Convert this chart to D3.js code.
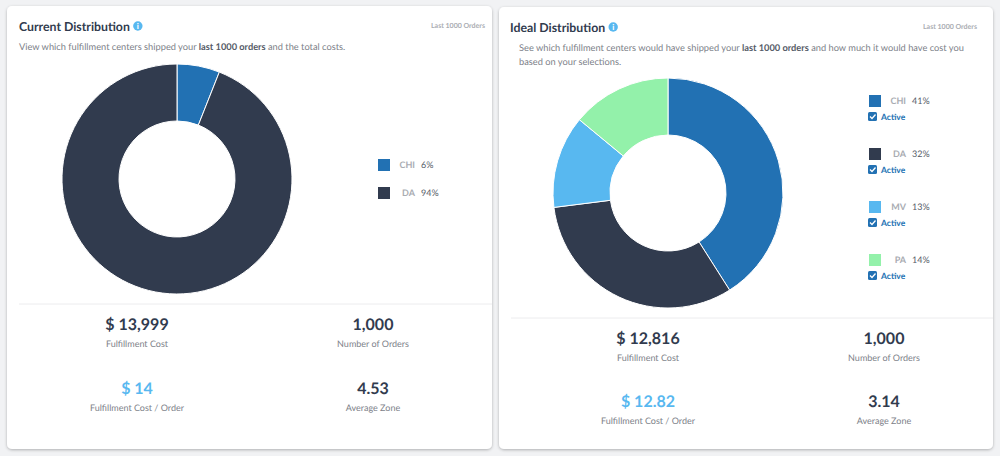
<!DOCTYPE html>
<html><head><meta charset="utf-8">
<script src="https://cdn.jsdelivr.net/npm/d3@7"></script>
<style>html,body{margin:0;padding:0;background:#f1f2f4;overflow:hidden}svg{display:block}text{font-family:Lato,"Open Sans",sans-serif;text-rendering:geometricPrecision}</style>
</head><body>
<svg id="c" width="1000" height="456"></svg>
<script>
const currentCenters = ["CHI","DA"];
const currentShares = [6,94];
const idealCenters = ["CHI","DA","MV","PA"];
const idealShares = [41,32,13,14];
const centerColors = ["#2271b3","#313b4e","#58b8f0","#93f1aa"];
const currentStats = [["$ 13,999","Fulfillment Cost"],["1,000","Number of Orders"],["$ 14","Fulfillment Cost / Order"],["4.53","Average Zone"]];
const idealStats = [["$ 12,816","Fulfillment Cost"],["1,000","Number of Orders"],["$ 12.82","Fulfillment Cost / Order"],["3.14","Average Zone"]];
const titles = ["Current Distribution","Ideal Distribution"];
const periodLabel = "Last 1000 Orders";

const svg = d3.select("#c");
const defs = svg.append("defs");
const f = defs.append("filter").attr("id","sh").attr("x","-5%").attr("y","-5%").attr("width","110%").attr("height","110%");
f.append("feDropShadow").attr("dx",0).attr("dy",1).attr("stdDeviation",1.5).attr("flood-color","#000").attr("flood-opacity",0.28);

const DARK="#313b4e", GREY="#7d8189", LIGHT="#a9acb2";

function card(cfg){
  const g = svg.append("g");
  g.append("rect").attr("x",cfg.x).attr("y",cfg.y).attr("width",cfg.w).attr("height",cfg.h).attr("rx",5).attr("fill","#fff").attr("filter","url(#sh)");
  // title
  const t = g.append("text").attr("x",cfg.titleX).attr("y",cfg.titleY).attr("font-size",12.3).attr("font-weight",700).attr("fill",DARK).text(cfg.title);
  const tw = t.node().getComputedTextLength();
  const ix = cfg.titleX+tw+8, iy=cfg.titleY-5;
  g.append("circle").attr("cx",ix).attr("cy",iy).attr("r",4.7).attr("fill","#58b8f0");
  g.append("text").attr("x",ix).attr("y",iy+3).attr("text-anchor","middle").attr("font-size",8).attr("font-weight",900).attr("fill","#fff").text("i");
  g.append("text").attr("x",cfg.periodX).attr("y",cfg.titleY-3).attr("text-anchor","end").attr("font-size",7).attr("font-weight",700).attr("fill",LIGHT).text(periodLabel);
  cfg.desc.forEach((parts,i)=>{
    const d = g.append("text").attr("x",cfg.descX).attr("y",cfg.descY+i*14).attr("font-size",9.27).attr("fill",GREY);
    parts.forEach(p=>d.append("tspan").attr("font-weight",p[1]?700:400).attr("fill",p[1]?"#555b67":GREY).text(p[0]));
  });
  // donut
  const pie = d3.pie().sort(null).value(d=>d);
  const arc = d3.arc().innerRadius(58).outerRadius(115);
  const color = d3.scaleOrdinal().domain(idealCenters).range(centerColors);
  g.append("g").attr("transform",`translate(${cfg.cx},${cfg.cy})`)
    .selectAll("path").data(pie(cfg.values)).join("path")
    .attr("d",arc).attr("fill",(d,i)=>color(cfg.names[i])).attr("stroke","#fff").attr("stroke-width",1);
  // legend
  cfg.names.forEach((n,i)=>{
    const y = cfg.legY + i*cfg.legStep;
    g.append("rect").attr("x",cfg.legX).attr("y",y-6).attr("width",12).attr("height",12).attr("fill",color(n));
    g.append("text").attr("x",cfg.legX+37).attr("y",y+2.8).attr("text-anchor","end").attr("font-size",9).attr("font-weight",700).attr("fill",LIGHT).text(n);
    g.append("text").attr("x",cfg.legX+43).attr("y",y+2.8).attr("font-size",9).attr("fill","#555b67").text(cfg.values[i]+"%");
    if(cfg.active){
      g.append("rect").attr("x",cfg.legX-1).attr("y",y+11).attr("width",9).attr("height",9).attr("rx",1.5).attr("fill","#2271b3");
      g.append("path").attr("d",`M${cfg.legX+1} ${y+15.5} l2 2 l3.5 -4`).attr("fill","none").attr("stroke","#fff").attr("stroke-width",1.3);
      g.append("text").attr("x",cfg.legX+12).attr("y",y+19).attr("font-size",8.5).attr("font-weight",700).attr("fill","#2271b3").text("Active");
    }
  });
  // divider
  g.append("line").attr("x1",cfg.x+12).attr("x2",cfg.x+cfg.w).attr("y1",cfg.divY).attr("y2",cfg.divY).attr("stroke","#ececee");
  // stats
  cfg.stats.forEach((s,i)=>{
    const x = cfg.statX[i%2], y = cfg.statY[i>>1];
    g.append("text").attr("x",x).attr("y",y).attr("text-anchor","middle").attr("font-size",16).attr("font-weight",700).attr("fill",i==2?"#58b8f0":DARK).text(s[0]);
    g.append("text").attr("x",x).attr("y",y+17.3).attr("text-anchor","middle").attr("font-size",9).attr("fill",GREY).text(s[1]);
  });
}

card({x:7,y:6,w:485,h:443,title:titles[0],titleX:19,titleY:31,periodX:485,descX:19,descY:50,
  desc:[[["View which fulfillment centers shipped your ",0],["last 1000 orders",1],[" and the total costs.",0]]],
  cx:177,cy:179,names:currentCenters,values:currentShares,legX:378,legY:165,legStep:28,active:false,
  divY:304,stats:currentStats,statX:[137,373],statY:[330,394]});
card({x:499,y:7,w:494,h:442,title:titles[1],titleX:510,titleY:32,periodX:977,descX:519,descY:51,
  desc:[[["See which fulfillment centers would have shipped your ",0],["last 1000 orders",1],[" and how much it would have cost you",0]],[["based on your selections.",0]]],
  cx:668,cy:193,names:idealCenters,values:idealShares,legX:869,legY:101,legStep:53,active:true,
  divY:318,stats:idealStats,statX:[648,884],statY:[344,407]});
</script>
</body></html>
